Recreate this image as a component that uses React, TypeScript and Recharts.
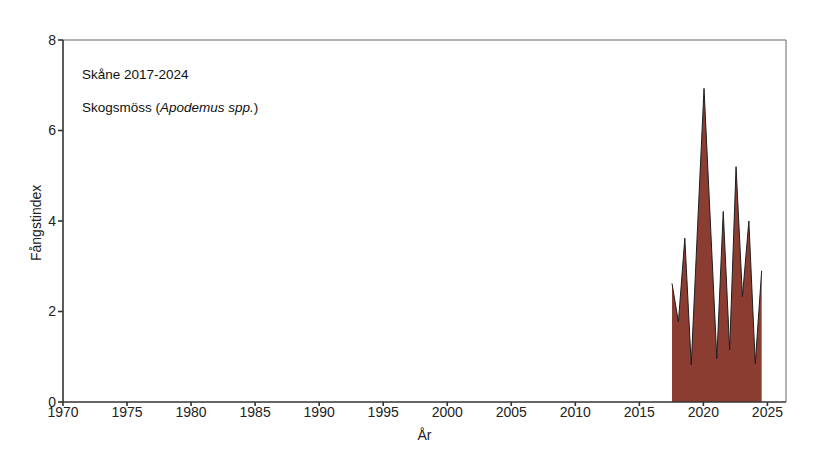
import React from 'react';
import { AreaChart, Area, XAxis, YAxis, ReferenceLine } from 'recharts';

// semi-annual trapping index (spring / autumn), Skåne
const years = [
  2017.55, 2018.05, 2018.55, 2019.05, 2019.55, 2020.05, 2020.55, 2021.05,
  2021.55, 2022.05, 2022.55, 2023.05, 2023.55, 2024.05, 2024.55,
];
const index = [
  2.62, 1.77, 3.62, 0.82, 3.9, 6.93, 3.95, 0.96,
  4.21, 1.15, 5.2, 2.33, 4.0, 0.85, 2.9,
];
const xTicks = [1970, 1975, 1980, 1985, 1990, 1995, 2000, 2005, 2010, 2015, 2020, 2025];
const yTicks = [0, 2, 4, 6, 8];

const data = years.map((year, i) => ({ year, value: index[i] }));

const X_MAX = 2026.45;
const font = 'Liberation Sans, Arial, sans-serif';
const tickStyle = { fill: '#222', fontSize: 14, fontFamily: font };

export default function App() {
  return (
    <div style={{ position: 'absolute', left: 0, top: 0, width: 821, height: 462, background: '#fff', fontFamily: font }}>
      <AreaChart width={821} height={462} data={data} margin={{ top: 40, right: 35, bottom: 30, left: 33 }}>
        <XAxis
          dataKey="year"
          type="number"
          domain={[1970, X_MAX]}
          ticks={xTicks}
          allowDataOverflow
          height={30}
          tickSize={4}
          tickMargin={1}
          stroke="#333"
          strokeWidth={1.6}
          tick={tickStyle}
          label={{ value: 'År', position: 'insideBottom', offset: -8, fill: '#222', fontSize: 14, fontFamily: font }}
        />
        <YAxis
          type="number"
          domain={[0, 8]}
          ticks={yTicks}
          width={30}
          tickSize={5}
          tickMargin={2}
          stroke="#333"
          strokeWidth={1.6}
          tick={tickStyle}
          label={{ value: 'Fångstindex', angle: -90, position: 'insideLeft', offset: 3, dy: 40, fill: '#222', fontSize: 14, fontFamily: font }}
        />
        <ReferenceLine y={8} stroke="#666" strokeWidth={1} />
        <ReferenceLine x={X_MAX} stroke="#666" strokeWidth={1} />
        <Area
          type="linear"
          dataKey="value"
          baseValue={0}
          fill="#8b3d31"
          fillOpacity={1}
          stroke="#1e1e1e"
          strokeWidth={1}
          isAnimationActive={false}
        />
      </AreaChart>
      <div style={{ position: 'absolute', left: 82, top: 67, fontSize: 13.5, color: '#111' }}>Skåne 2017-2024</div>
      <div style={{ position: 'absolute', left: 82, top: 100, fontSize: 13.5, color: '#111' }}>
        Skogsmöss (<i>Apodemus spp.</i>)
      </div>
    </div>
  );
}
